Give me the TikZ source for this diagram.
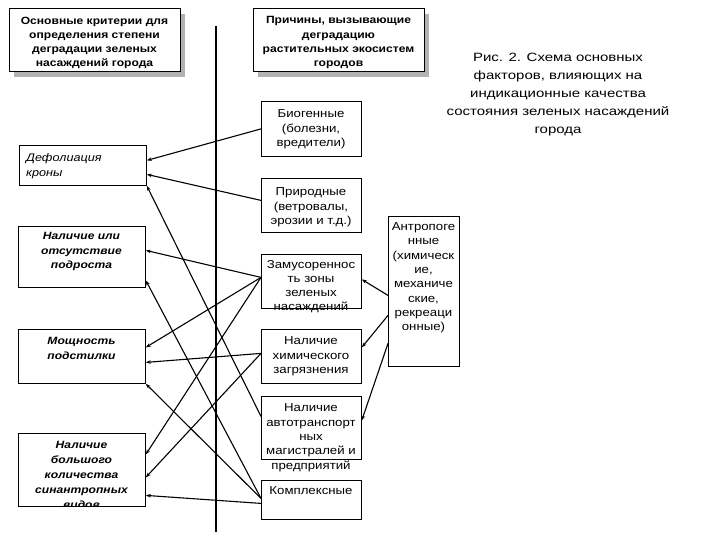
\documentclass[tikz,border=0pt]{standalone}
\usepackage{fontspec}
\setmainfont{Liberation Sans}[FakeStretch=1.15]
\newfontfamily\capfont{Liberation Sans}[FakeStretch=1.25]
\usetikzlibrary{arrows.meta,shadows}

\begin{document}
\begin{tikzpicture}[x=1pt, y=-1pt,
		box/.style={draw, line width=0.8pt, inner sep=0pt, anchor=north west},
		head/.style={box, fill=white, drop shadow={shadow xshift=5pt, shadow yshift=-6pt, fill=black!30, opacity=1}},
		txt/.style={inner sep=0pt, align=center, anchor=north, font=\fontsize{11.5}{14.3}\selectfont},
		headtxt/.style={txt, font=\fontsize{10.5}{14.3}\selectfont\bfseries},
		crit/.style={txt, font=\fontsize{10.5}{14.5}\selectfont\bfseries\itshape},
		arr/.style={line width=1.1pt, -{Stealth[length=5pt, width=3.6pt]}}]
			%%%%% START %%%%%
			\useasboundingbox (0, 0) rectangle (720, 540);
			
			\node[head, minimum width=171, minimum height=63] (hdcrit) at (9, 8) {};
			\node[headtxt] (hdcrit-t) at (94.5, 16.5) {Основные критерии для\\определения степени\\деградации зеленых\\насаждений города};
			\node[head, minimum width=171, minimum height=63] (hdcause) at (253, 8) {};
			\node[headtxt] (hdcause-t) at (338.5, 16.5) {Причины, вызывающие\\деградацию\\растительных экосистем\\городов};
			
			\draw[line width=2.3pt] (216, 26) -- (216, 532);
			
			\node[box, minimum width=127, minimum height=40] (defol) at (19, 145) {};
			\node[txt, anchor=north west, align=left, font=\fontsize{11}{15}\selectfont\itshape] (defol-t) at (26, 153.6) {Дефолиация\\кроны};
			\node[box, minimum width=127, minimum height=61] (podrost) at (18, 226) {};
			\node[crit] (podrost-t) at (81.5, 232.5) {Наличие или\\отсутствие\\подроста};
			\node[box, minimum width=127, minimum height=54] (moshch) at (18, 329) {};
			\node[crit] (moshch-t) at (81.5, 337.5) {Мощность\\подстилки};
			\node[box, minimum width=127, minimum height=73] (sinantr) at (18, 433) {};
			\begin{scope}
				\clip (18, 433) rectangle (145, 506);
				\node[crit, font=\fontsize{10.5}{15}\selectfont\bfseries\itshape] (sinantr-t) at (81.5, 441.5) {Наличие\\большого\\количества\\синантропных\\видов};
			\end{scope}
			
			\node[box, minimum width=100, minimum height=55] (bio) at (261, 101) {};
			\node[txt] (bio-t) at (311, 109.8) {Биогенные\\(болезни,\\вредители)};
			\node[box, minimum width=100, minimum height=54] (prir) at (261, 178) {};
			\node[txt] (prir-t) at (311, 187.8) {Природные\\(ветровалы,\\эрозии и т.д.)};
			\node[box, minimum width=100, minimum height=54] (zamus) at (261, 254) {};
			\node[txt] (zamus-t) at (311, 259.8) {Замусореннос\\ть зоны\\зеленых\\насаждений};
			\node[box, minimum width=100, minimum height=54] (chem) at (261, 329) {};
			\node[txt] (chem-t) at (311, 336.8) {Наличие\\химического\\загрязнения};
			\node[box, minimum width=100, minimum height=63] (auto) at (261, 396) {};
			\node[txt] (auto-t) at (311, 403.8) {Наличие\\автотранспорт\\ных\\магистралей и\\предприятий};
			\node[box, minimum width=100, minimum height=39] (kompl) at (261, 480) {};
			\node[txt] (kompl-t) at (311, 486.8) {Комплексные};
			
			\node[box, minimum width=71, minimum height=150] (antro) at (388, 216) {};
			\node[txt] (antro-t) at (423.5, 222.5) {Антропоге\\нные\\(химическ\\ие,\\механиче\\ские,\\рекреаци\\онные)};
			
			\node[txt, font=\capfont\fontsize{12}{18}\selectfont] (caption) at (558, 53.4) {Рис. 2. Схема основных\\факторов, влияющих на\\индикационные качества\\состояния зеленых насаждений\\города};
			
			% connectors
			\coordinate (zamus-out) at ([yshift=4pt]zamus.west);
			\coordinate (chem-out) at ([yshift=3pt]chem.west);
			\coordinate (kompl-out) at ([yshift=1.5pt]kompl.west);
			
			\draw[arr] (bio.west) -- ([yshift=5pt]defol.east);
			\draw[arr] ([yshift=5pt]prir.west) -- ([yshift=-9pt]defol.east);
			\draw[arr] ([yshift=11.5pt]auto.west) -- (defol.south east);
			
			\draw[arr] (zamus-out) -- ([yshift=6.5pt]podrost.east);
			\draw[arr] (kompl-out) -- ([yshift=-23.5pt]podrost.east);
			
			\draw[arr] (zamus-out) -- ([yshift=9pt]moshch.east);
			\draw[arr] (chem-out) -- ([yshift=-6pt]moshch.east);
			\draw[arr] (kompl-out) -- (moshch.south east);
			
			\draw[arr] (zamus-out) -- ([yshift=15.5pt]sinantr.east);
			\draw[arr] (chem-out) -- ([yshift=-7.5pt]sinantr.east);
			\draw[arr] ([yshift=-3.5pt]kompl.west) -- ([yshift=-25.5pt]sinantr.east);
			
			\draw[arr] ([yshift=-4pt]antro.west) -- ([yshift=2pt]zamus.east);
			\draw[arr] ([yshift=-24pt]antro.west) -- ([yshift=9pt]chem.east);
			\draw[arr] ([yshift=-52pt]antro.west) -- ([yshift=7.5pt]auto.east);
			
			%%%%% END %%%%%
\end{tikzpicture}
\end{document}
